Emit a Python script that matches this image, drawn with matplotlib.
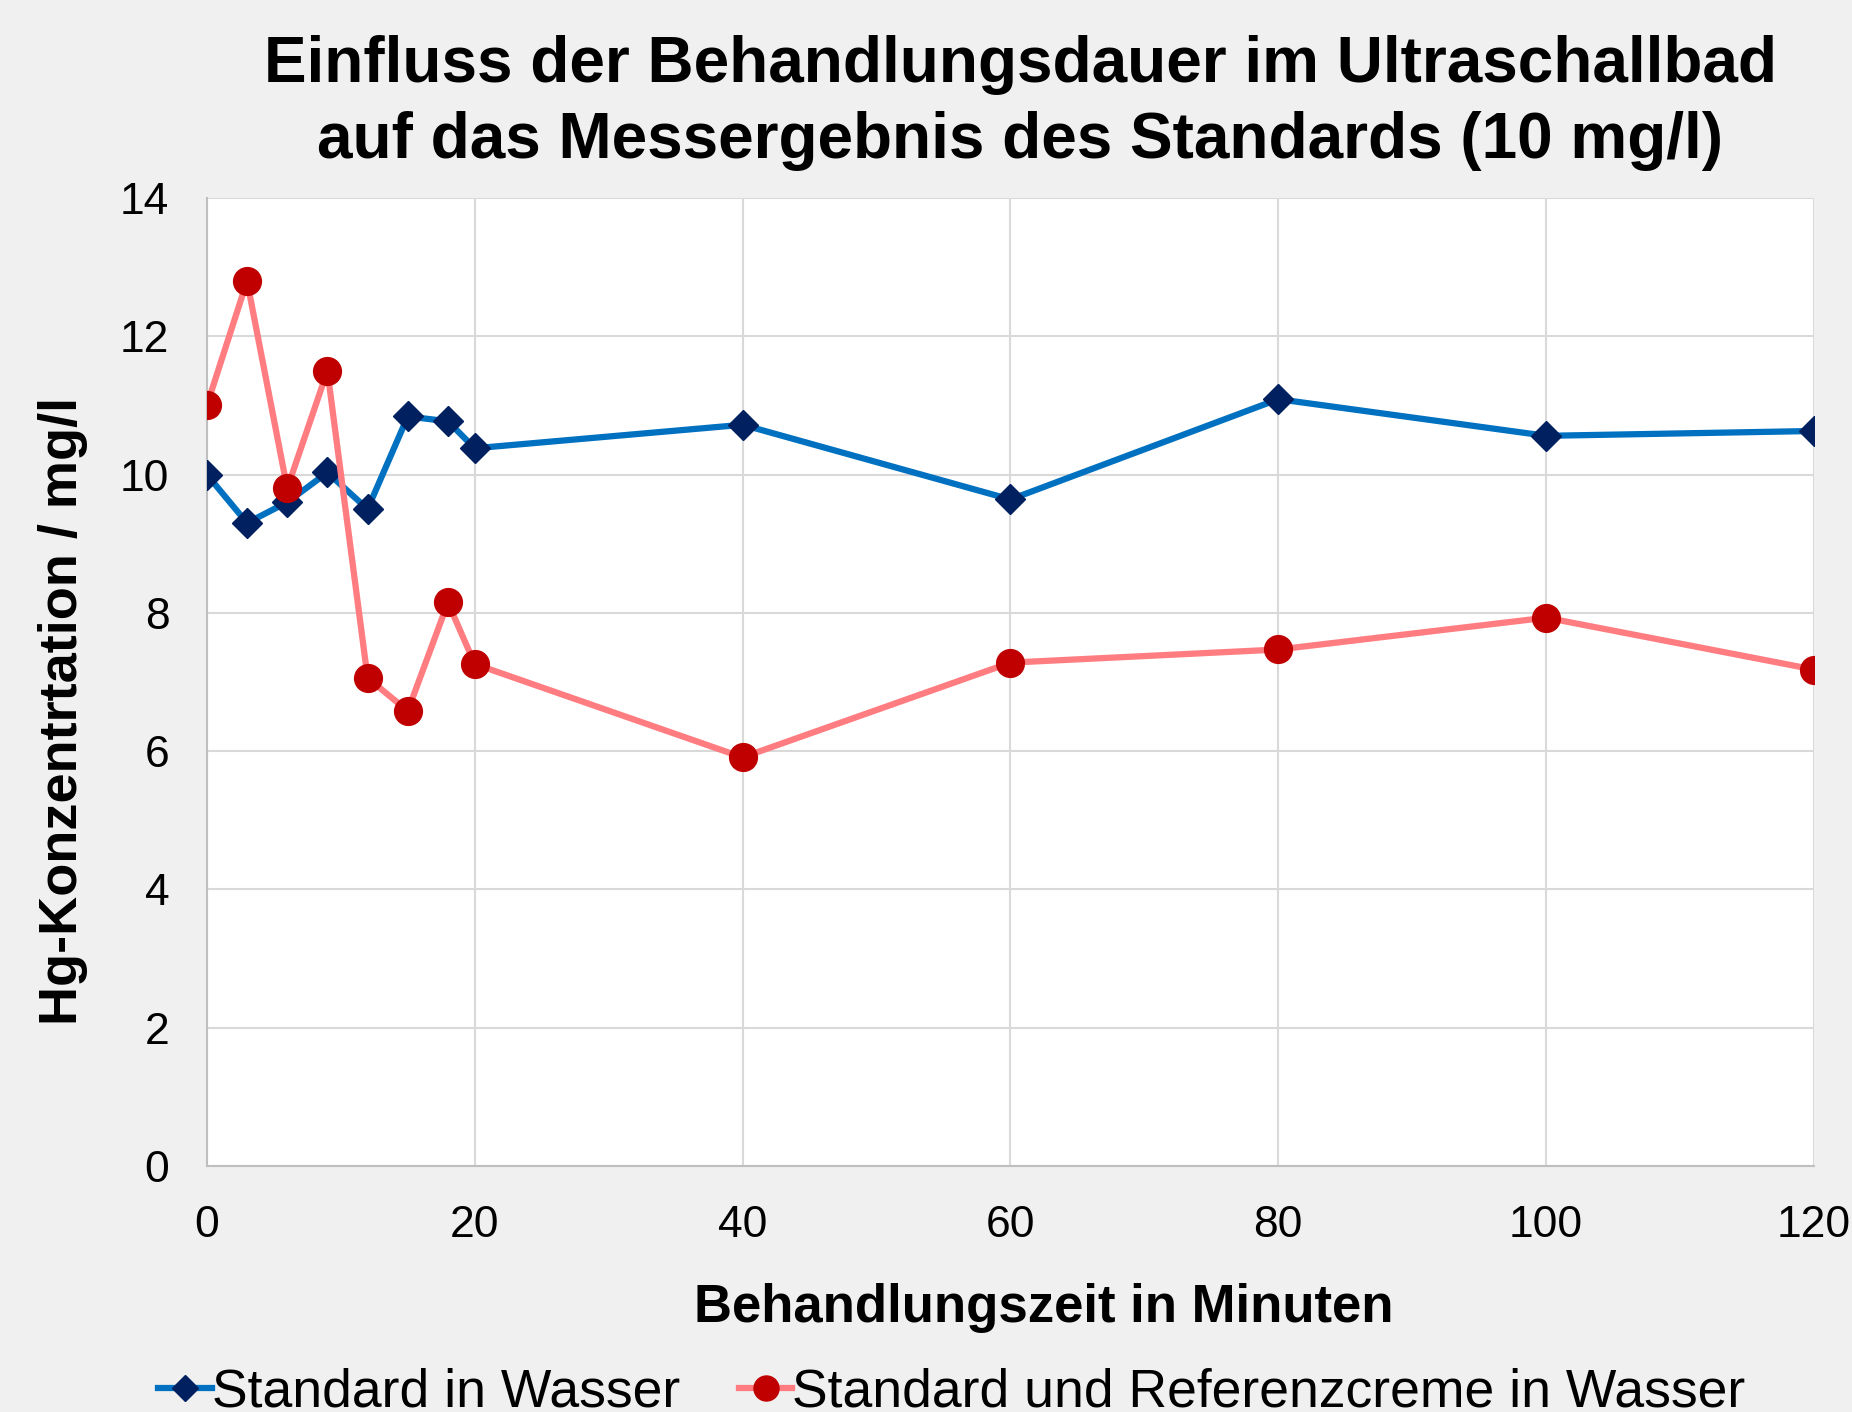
import matplotlib.pyplot as plt

# Behandlungszeit in Minuten
zeit = [0, 3, 6, 9, 12, 15, 18, 20, 40, 60, 80, 100, 120]
# Hg-Konzentration / mg/l
wasser = [10.0, 9.3, 9.6, 10.03, 9.5, 10.84, 10.77, 10.38, 10.72, 9.64, 11.09, 10.56, 10.63]
referenz = [11.0, 12.8, 9.8, 11.5, 7.06, 6.58, 8.15, 7.26, 5.91, 7.28, 7.47, 7.93, 7.18]

x_ticks = [0, 20, 40, 60, 80, 100, 120]
y_ticks = [0, 2, 4, 6, 8, 10, 12, 14]

plt.rcParams['font.family'] = ['Liberation Sans', 'DejaVu Sans']

fig = plt.figure(figsize=(18.52, 14.12), dpi=100, facecolor='#f0f0f0')
ax = fig.add_axes([0.1117, 0.1742, 0.8678, 0.6856])
ax.set_facecolor('white')

l1, = ax.plot(zeit, wasser, color='#0070c0', lw=4.5, marker='D', ms=15,
              mfc='#002060', mec='#002060', zorder=3, label='Standard in Wasser')
l2, = ax.plot(zeit, referenz, color='#ff7c80', lw=4.5, marker='o', ms=20,
              mfc='#c00000', mec='#c00000', zorder=4,
              label='Standard und Referenzcreme in Wasser')

ax.set_xlim(0, 120)
ax.set_ylim(0, 14)
ax.set_xticks(x_ticks)
ax.set_yticks(y_ticks)
ax.grid(True, color='#d9d9d9', lw=1.5)
ax.set_axisbelow(True)
ax.tick_params(length=0, labelsize=32)
ax.tick_params(axis='x', pad=28)
ax.tick_params(axis='y', pad=27)
for s in ['top', 'right']:
    ax.spines[s].set_visible(False)
for s in ['left', 'bottom']:
    ax.spines[s].set_color('#bfbfbf')
    ax.spines[s].set_linewidth(1.5)

fig.text(0.551, 0.927, 'Einfluss der Behandlungsdauer im Ultraschallbad\n'
         'auf das Messergebnis des Standards (10 mg/l)',
         ha='center', va='center', fontsize=46, fontweight='bold', linespacing=1.35)
fig.text(0.5637, 0.0735, 'Behandlungszeit in Minuten', ha='center', va='center',
         fontsize=38, fontweight='bold')
fig.text(0.034, 0.4965, 'Hg-Konzentrtation / mg/l', ha='center', va='center',
         rotation=90, fontsize=39, fontweight='bold')

fig.legend(handles=[l1, l2], loc='center', bbox_to_anchor=(0.514, 0.014), ncol=2,
           frameon=False, fontsize=38.5, handlelength=1.0, handletextpad=0.0,
           columnspacing=1.1, markerscale=0.9)

fig.savefig('out.png', dpi=100, facecolor=fig.get_facecolor())
